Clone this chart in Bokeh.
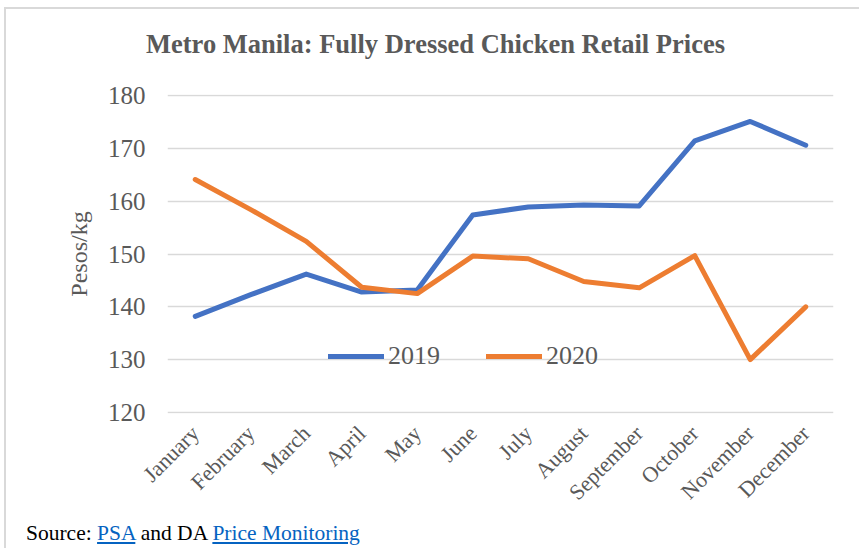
from math import pi
from bokeh.plotting import figure
from bokeh.layouts import column
from bokeh.models import (FactorRange, Range1d, Legend, LegendItem, Div,
                          FixedTicker)
from bokeh.embed import file_html
from bokeh.resources import INLINE

months = ["January", "February", "March", "April", "May", "June", "July",
          "August", "September", "October", "November", "December"]
prices_2019 = [138.2, 142.3, 146.2, 142.8, 143.2, 157.4, 158.9, 159.3,
               159.1, 171.4, 175.1, 170.6]
prices_2020 = [164.1, 158.4, 152.4, 143.7, 142.5, 149.6, 149.1, 144.8,
               143.6, 149.7, 130.0, 140.0]
y_ticks = [120, 130, 140, 150, 160, 170, 180]
series_names = ["2019", "2020"]
title_text = "Metro Manila: Fully Dressed Chicken Retail Prices"

FONT = "Liberation Serif"
GRAY = "#595959"
BLUE = "#4472C4"
ORANGE = "#ED7D31"
LINK = "#0563C1"

title = Div(text=title_text, width=718, height=46,
            styles={"font-family": FONT, "font-size": "26.5px",
                    "font-weight": "bold", "color": GRAY,
                    "line-height": "60px", "padding-left": "135px",
                    "white-space": "nowrap"})

p = figure(width=853, height=453, x_range=FactorRange(*months),
           y_range=Range1d(119.8, 180.2), output_backend="svg",
           toolbar_location=None, min_border_left=161, min_border_right=26,
           min_border_top=29, min_border_bottom=105, title_location=None)
p.outline_line_color = None

r19 = p.line(months, prices_2019, line_color=BLUE, line_width=5,
             line_cap="round", line_join="round")
r20 = p.line(months, prices_2020, line_color=ORANGE, line_width=5,
             line_cap="round", line_join="round")

p.xgrid.grid_line_color = None
p.ygrid.grid_line_color = "#D9D9D9"
p.ygrid.grid_line_width = 1.5
p.yaxis.ticker = FixedTicker(ticks=y_ticks)

for ax in (p.xaxis[0], p.yaxis[0]):
    ax.axis_line_color = None
    ax.major_tick_line_color = None
    ax.minor_tick_line_color = None
    ax.major_label_text_font = FONT
    ax.major_label_text_color = GRAY

p.yaxis.major_label_text_font_size = "25px"
p.yaxis.major_label_standoff = 16
p.yaxis.axis_label = "Pesos/kg"
p.yaxis.axis_label_text_font = FONT
p.yaxis.axis_label_text_font_style = "normal"
p.yaxis.axis_label_text_font_size = "24px"
p.yaxis.axis_label_text_color = GRAY
p.yaxis.axis_label_standoff = 13

p.xaxis.major_label_orientation = pi / 4
p.xaxis.major_label_text_font_size = "22px"
p.xaxis.major_label_standoff = 10

legend = Legend(items=[LegendItem(label=series_names[0], renderers=[r19]),
                       LegendItem(label=series_names[1], renderers=[r20])],
                location=(161, 42), orientation="horizontal",
                border_line_alpha=0, background_fill_alpha=0, padding=0,
                margin=0, spacing=46, glyph_width=56, glyph_height=26,
                label_standoff=4, label_text_font=FONT,
                label_text_font_size="26px", label_text_color=GRAY)
p.add_layout(legend, "center")

link_style = "color:%s;text-decoration:underline;" % LINK
source = Div(
    text=('Source: <a href="#" style="%s">PSA</a> and DA '
          '<a href="#" style="%s">Price Monitoring</a>') % (link_style,
                                                            link_style),
    width=832, height=20,
    styles={"font-family": FONT, "font-size": "21.5px", "line-height": "21px",
            "padding-left": "15px", "color": "black"})

layout = column(title, p, source, spacing=0)
layout.styles = {"border-top": "2px solid #D9D9D9",
                 "border-left": "2px solid #D9D9D9",
                 "margin-left": "4px", "margin-top": "7px"}

open("out.html", "w").write(file_html(layout, INLINE))
